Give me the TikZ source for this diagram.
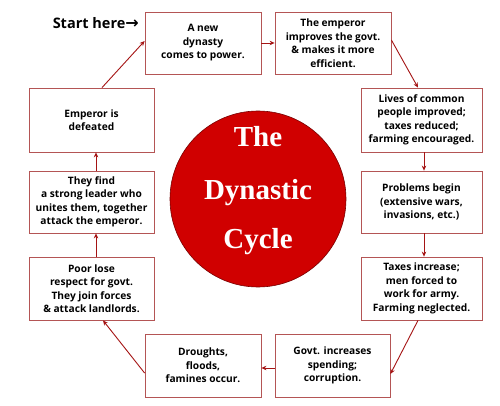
\documentclass[tikz,border=0pt]{standalone}
\usepackage{fontspec}
\setmainfont{Open Sans}
\newfontfamily\titlefont{Liberation Serif}
\newfontfamily\arrowfont{DejaVu Sans}
\usetikzlibrary{arrows.meta,calc}
\definecolor{boxline}{RGB}{180,85,85}
\definecolor{arrowred}{RGB}{165,20,20}
\definecolor{circred}{RGB}{208,0,0}
\definecolor{circline}{RGB}{120,0,0}
\begin{document}
\begin{tikzpicture}[x=1pt,y=-1pt,
  stagebox/.style={draw=boxline,line width=0.8pt,rectangle,inner sep=0pt,
    align=center,font=\bfseries\fontsize{10.2}{13.5}\selectfont,text=black},
  cyclearrow/.style={draw=arrowred,line width=0.9pt,-{Stealth[length=5pt,width=4.5pt]}},
  titletext/.style={text=white,anchor=base,font=\titlefont\bfseries\fontsize{29}{29}\selectfont}]
\useasboundingbox (0,0) rectangle (500,406);
\fill[white] (0,0) rectangle (500,406);
% circle
\node[circle,fill=circred,draw=circline,line width=0.6pt,minimum size=176pt,inner sep=0pt] (circ) at (258,199) {};
\node[titletext] (t1) at (258,147) {The};
\node[titletext] (t2) at (258,200) {Dynastic};
\node[titletext] (t3) at (258,248) {Cycle};
% boxes
\node[stagebox,minimum width=116pt,minimum height=62pt] (b1) at (203,43) {A new\\dynasty\\comes to power.};
\node[stagebox,minimum width=116pt,minimum height=62pt] (b2) at (333,43) {The emperor\\improves the govt.\\\& makes it more\\efficient.};
\node[stagebox,minimum width=121pt,minimum height=64pt] (b3) at (421.5,120) {Lives of common\\people improved;\\taxes reduced;\\farming encouraged.};
\node[stagebox,minimum width=121pt,minimum height=62pt] (b4) at (421.5,202) {Problems begin\\(extensive wars,\\invasions, etc.)};
\node[stagebox,minimum width=121pt,minimum height=63pt] (b5) at (421.5,288.5) {Taxes increase;\\men forced to\\work for army.\\Farming neglected.};
\node[stagebox,minimum width=115pt,minimum height=63pt] (b6) at (332.5,365.5) {Govt. increases\\spending;\\corruption.};
\node[stagebox,minimum width=116pt,minimum height=63pt] (b7) at (203,365.5) {Droughts,\\floods,\\famines occur.};
\node[stagebox,minimum width=125pt,minimum height=63pt] (b8) at (91.5,288.5) {Poor lose\\respect for govt.\\They join forces\\\& attack landlords.};
\node[stagebox,minimum width=125pt,minimum height=62pt] (b9) at (91.5,202) {They find\\a strong leader who\\unites them, together\\attack the emperor.};
\node[stagebox,minimum width=125pt,minimum height=64pt] (b10) at (91.5,120) {Emperor is\\defeated};
% start label
\node[anchor=base east,inner sep=0pt,font=\bfseries\fontsize{14.5}{14.5}\selectfont] (start) at (139,29) {Start here{\arrowfont\bfseries\fontsize{16}{16}\selectfont →}};
% connectors
\draw[cyclearrow] (b1.east) -- (b2.west);
\draw[cyclearrow] ([yshift=3pt]b2.east) -- ([xshift=-3.5pt]b3.north);
\draw[cyclearrow] ([xshift=2.5pt]b3.south) -- ([xshift=2.5pt]b4.north);
\draw[cyclearrow] ([xshift=2.5pt]b4.south) -- ([xshift=2.5pt]b5.north);
\draw[cyclearrow] ([xshift=-3.5pt]b5.south) -- ([yshift=-8.5pt]b6.east);
\draw[cyclearrow] ([yshift=-2.5pt]b6.west) -- ([yshift=-2.5pt]b7.east);
\draw[cyclearrow] ([yshift=-7.5pt]b7.west) -- ([xshift=11.5pt]b8.south);
\draw[cyclearrow] ([xshift=4.5pt]b8.north) -- ([xshift=4.5pt]b9.south);
\draw[cyclearrow] ([xshift=4.5pt]b9.north) -- ([xshift=4.5pt]b10.south);
\draw[cyclearrow] ([xshift=10.5pt]b10.north) -- ([yshift=2pt]b1.west);
\end{tikzpicture}
\end{document}
